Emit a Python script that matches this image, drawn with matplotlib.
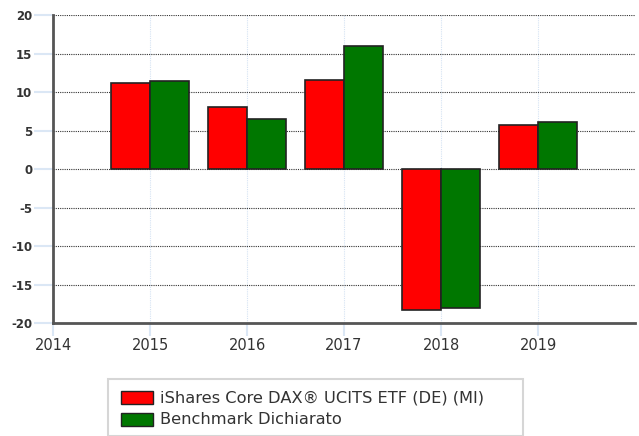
import numpy as np
import matplotlib
matplotlib.use("Agg")
import matplotlib.pyplot as plt
from matplotlib.patches import Rectangle

# Data
years = [2015, 2016, 2017, 2018, 2019]
etf_returns = [11.2, 8.1, 11.6, -18.3, 5.7]
benchmark_returns = [11.4, 6.5, 16.0, -18.0, 6.1]
series_labels = ["iShares Core DAX\u00ae UCITS ETF (DE) (MI)", "Benchmark Dichiarato"]
x_ticks = [2014, 2015, 2016, 2017, 2018, 2019]
y_ticks = [-20, -15, -10, -5, 0, 5, 10, 15, 20]

red = "#ff0000"
green = "#007700"
text_col = "#333333"
tick_blue = "#dbe7f5"

fig = plt.figure(figsize=(6.39, 4.36), dpi=100)
ax = fig.add_axes([53 / 639, 1 - 323 / 436, 582 / 639, 308 / 436])

x = np.array(years, dtype=float)
w = 0.4
ax.bar(x - w / 2, etf_returns, width=w, color=red, edgecolor="#222222", linewidth=1.2, zorder=3)
ax.bar(x + w / 2, benchmark_returns, width=w, color=green, edgecolor="#222222", linewidth=1.2, zorder=3)

ax.set_xlim(2014, 2020)
ax.set_ylim(-20, 20)
ax.set_xticks(x_ticks)
ax.set_xticklabels([str(t) for t in x_ticks], fontsize=10.5, color=text_col)
ax.set_yticks(y_ticks)
ax.set_yticklabels([str(t) for t in y_ticks], fontsize=8.5, color=text_col, fontweight="bold")

ax.tick_params(axis="y", length=14, width=1.5, color=tick_blue, pad=1)
ax.tick_params(axis="x", length=9, width=1.5, color=tick_blue, pad=2)

# grid: black dotted horizontal, faint blue dotted vertical
for yv in y_ticks[1:]:
    ax.axhline(yv, color="#333333", linestyle=(0, (1, 1)), linewidth=0.8, zorder=1)
for xv in x_ticks[1:]:
    ax.axvline(xv, color="#d5e3f3", linestyle=(0, (1, 1)), linewidth=0.8, zorder=0)

for side in ["top", "right"]:
    ax.spines[side].set_visible(False)
for side in ["left", "bottom"]:
    ax.spines[side].set_color("#555555")
    ax.spines[side].set_linewidth(2)
    ax.spines[side].set_zorder(4)

# legend drawn by hand, box runs off the bottom edge
W, H = 639, 436
fig.patches.append(Rectangle((108 / W, 0), (523 - 108) / W, (H - 379) / H,
                             transform=fig.transFigure, facecolor="white",
                             edgecolor="#d6d6d6", linewidth=1.5))
for i, (lab, col) in enumerate(zip(series_labels, [red, green])):
    y_top = 391 + i * 22
    fig.patches.append(Rectangle((121 / W, 1 - (y_top + 13) / H), 32 / W, 13 / H,
                                 transform=fig.transFigure, facecolor=col,
                                 edgecolor="#222222", linewidth=1.0))
    fig.text(160 / W, 1 - (y_top + 6.5) / H, lab, fontsize=11.7, color=text_col,
             va="center", ha="left")

fig.savefig("out.png", dpi=100)
